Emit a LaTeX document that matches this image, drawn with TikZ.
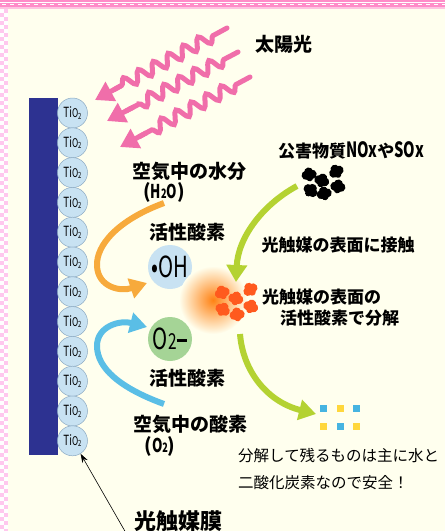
\documentclass[tikz,border=0pt]{standalone}
\usepackage{fontspec}
\usepackage{graphicx}
\setmainfont{Noto Sans CJK JP}
\usetikzlibrary{arrows.meta,decorations.pathmorphing,calc}

\definecolor{bgcream}{RGB}{255,255,238}
\definecolor{bandpink}{RGB}{255,140,200}
\definecolor{bandlight}{RGB}{255,195,225}
\definecolor{checkpink}{RGB}{255,200,238}
\definecolor{pinkwave}{RGB}{240,110,170}
\definecolor{barblue}{RGB}{45,50,145}
\definecolor{tiblue}{RGB}{200,226,242}
\definecolor{tiedge}{RGB}{140,170,195}
\definecolor{o2green}{RGB}{165,212,150}
\definecolor{orangearrow}{RGB}{247,170,60}
\definecolor{bluearrow}{RGB}{90,190,230}
\definecolor{greenarrow}{RGB}{180,210,50}
\definecolor{pollut}{RGB}{255,90,30}
\definecolor{glow}{RGB}{255,130,20}
\definecolor{sqblue}{RGB}{70,180,225}
\definecolor{sqyellow}{RGB}{255,215,60}

% narrow chemical formulas
\newcommand\narrow[1]{\scalebox{0.7}[1]{#1}}
\newcommand\tiotext{\narrow{Ti{\fontsize{12}{12}\selectfont O\raisebox{-1.5pt}{\fontsize{8.5}{8.5}\selectfont 2}}}}

\tikzset{
  boldlbl/.style={font=\bfseries\fontsize{19}{19}\selectfont, inner sep=0pt},
  reglbl/.style={font=\bfseries\fontsize{17}{17}\selectfont, inner sep=0pt},
  thinlbl/.style={font=\fontsize{15.5}{15.5}\selectfont, inner sep=0pt},
  ticircle/.style={circle, minimum size=30pt, inner sep=0pt, fill=tiblue,
    draw=tiedge, line width=0.5pt, font=\fontsize{14}{14}\selectfont},
  radical/.style={circle, minimum size=44pt, inner sep=0pt,
    font=\fontsize{29}{29}\selectfont},
  wavy/.style={draw=pinkwave, line width=5pt, line cap=round, decorate,
    decoration={snake, segment length=17pt, amplitude=6pt,
      pre length=16pt, post length=6pt}},
  wavehead/.style={draw=pinkwave, line width=5pt,
    -{Triangle[length=18pt,width=21pt]}},
  flow/.style={line width=6pt, -{Triangle[length=17pt,width=20pt]}},
  pics/blob/.style={code={
    \fill (-3,0.8) circle (4.6pt);
    \fill (3,0.8) circle (4.6pt);
    \fill (0,-2.1) circle (4.5pt);
    \fill (0,4.1) circle (3.3pt);
  }},
}

\begin{document}
\begin{tikzpicture}[x=1pt,y=-1pt]
  \useasboundingbox (0,0) rectangle (445,531);
  % page background
  \fill[bgcream] (0,0) rectangle (445,531);
  % decorative frame: stripes on top, checks on the left
  \fill[bandpink] (0,0) rectangle (445,1.6);
  \fill[white] (0,1.6) rectangle (445,3);
  \fill[bandpink] (0,3) rectangle (445,6.5);
  \foreach \k in {0,...,55} \fill[white] ({8*\k+2},4.3) rectangle ({8*\k+6},5.3);
  \fill[bandlight] (0,6.5) rectangle (445,8.5);
  \fill[checkpink] (0,8.5) rectangle (8,531);
  \foreach \r in {0,...,131} {
    \pgfmathtruncatemacro\odd{mod(\r,2)}
    \ifnum\odd=0
      \fill[white] (0,{8.5+4*\r}) rectangle (4,{12.5+4*\r});
    \else
      \fill[white] (4,{8.5+4*\r}) rectangle (8,{12.5+4*\r});
    \fi
  }

  % substrate and titanium dioxide film
  \fill[barblue] (29,98) rectangle (58,455);
  \foreach \i in {1,...,12}
    \node[ticircle] (t\i) at (72.5,{113+29.8*(\i-1)}) {\tiotext};

  % sunlight
  \node[boldlbl] (sun) at (284,44) {太陽光};
  \coordinate (w1s) at (227,28);  \coordinate (w1e) at (95,100);
  \coordinate (w2s) at (238,52);  \coordinate (w2e) at (107,121);
  \coordinate (w3s) at (250,77);  \coordinate (w3e) at (120,147);
  \foreach \w in {1,2,3} {
    \draw[wavy] (w\w s) -- ($(w\w e)!22pt!(w\w s)$);
    \draw[wavehead] ($(w\w e)!30pt!(w\w s)$) -- (w\w e);
  }

  % radicals
  \node[radical, fill=tiblue] (oh) at (170,267) {\narrow{•OH}};
  \node[radical, fill=o2green] (o2) at (170,339)
    {\narrow{O{\fontsize{22}{22}\selectfont 2}\rule[8pt]{15pt}{2.2pt}}};

  % labels on the left side
  \node[boldlbl] (water) at (189,171) {空気中の水分};
  \node[boldlbl] (h2o) at (164,192)
    {(\narrow{H{\fontsize{13}{13}\selectfont 2}O})};
  \node[boldlbl] (act1) at (187,232) {活性酸素};
  \node[boldlbl] (act2) at (187,378) {活性酸素};
  \node[boldlbl] (oxy) at (190,424) {空気中の酸素};
  \node[boldlbl] (o2lbl) at (160,446)
    {(\narrow{O{\fontsize{13}{13}\selectfont 2}})};
  \node[boldlbl, font=\bfseries\fontsize{22}{22}\selectfont] (film) at (178,521) {光触媒膜};

  % pollutant before contact
  \node[reglbl] (poll) at (351,150)
    {公害物質{\fontsize{21}{21}\selectfont\narrow{NOx}}や{\fontsize{21}{21}\selectfont\narrow{SOx}}};
  \foreach \px/\py/\rot in {309/174/10, 322/180/-20, 336/171/30, 311/190/-40, 324/193/15, 338/186/-10}
    \pic[black, rotate=\rot] at (\px,\py) {blob};

  % reaction site with glow
  \shade[inner color=glow, outer color=bgcream] (213,300) circle (34pt);
  \foreach \px/\py/\rot in {222/292/20, 236/298/-15, 250/289/35, 223/309/-30, 237/314/10, 251/306/-20}
    \pic[pollut, rotate=\rot] at (\px,\py) {blob};

  \node[reglbl] (contact) at (338,245) {光触媒の表面に接触};
  \node[reglbl, anchor=west] (dec1) at (262,297) {光触媒の表面の};
  \node[reglbl, anchor=west] (dec2) at (280,318) {活性酸素で分解};

  % decomposition products
  \foreach \sx/\sy/\sc in {320/405/sqblue, 337/405/sqyellow, 353/405/sqblue,
                          320/423/sqyellow, 337/423/sqblue, 353/423/sqyellow}
    \fill[\sc] (\sx,\sy) rectangle ++(7,7);
  \coordinate (prod) at (316,414);
  \node[thinlbl, anchor=west] (safe1) at (238,456) {分解して残るものは主に水と};
  \node[thinlbl, anchor=west] (safe2) at (238,483) {二酸化炭素なので安全！};

  % flow arrows
  \coordinate (ohin) at (147,283);
  \coordinate (o2in) at (147,327);
  \draw[flow, orangearrow] (164,203) .. controls (118,220) and (96,245) .. (97,266)
    .. controls (98,287) and (120,292) .. (ohin);
  \draw[flow, bluearrow] (164,404) .. controls (120,388) and (97,368) .. (97,346)
    .. controls (97,326) and (120,320) .. (o2in);
  \draw[flow, greenarrow] (297,186) .. controls (262,205) and (238,238) .. (236,282);
  \draw[flow, greenarrow] (240,334) .. controls (243,372) and (268,402) .. (prod);

  % pointer to the film
  \coordinate (filmtail) at (126,533);
  \draw[line width=0.6pt, -{Stealth[length=9pt,width=6pt]}] (filmtail) -- (t12.-58);
\end{tikzpicture}
\end{document}
